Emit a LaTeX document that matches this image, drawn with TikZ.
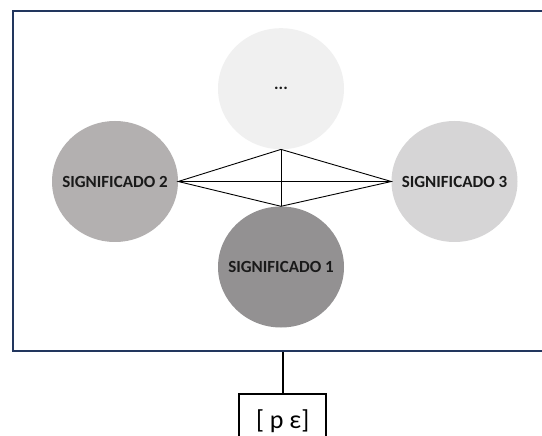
\documentclass[tikz,border=0pt]{standalone}
\usepackage{fontspec}
\setmainfont{Carlito}
\usetikzlibrary{shapes.geometric}
\definecolor{framenavy}{HTML}{22365E}
\definecolor{meanA}{HTML}{939192}
\definecolor{meanB}{HTML}{B3B0B0}
\definecolor{meanC}{HTML}{D6D5D6}
\definecolor{meanD}{HTML}{F0F0F0}
\definecolor{labelink}{HTML}{1A1A1A}
\tikzset{
  meaning/.style={ellipse, inner sep=0pt, minimum width=126pt, minimum height=121pt,
    text=labelink, font=\fontsize{17}{18}\selectfont\bfseries},
  link/.style={draw=black, line width=0.9pt},
}
% zero-width label so the disc keeps its own size
\newcommand{\meantext}[1]{\makebox[0pt]{#1}}
\begin{document}
\begin{tikzpicture}[x=1pt,y=-1pt]
\useasboundingbox (0,0) rectangle (542,436);
% outer frame
\node[draw=framenavy, line width=2.2pt, fill=white, anchor=north west,
      minimum width=548pt, minimum height=340pt, inner sep=0pt] (frame) at (12,10) {};
% the four meanings
\node[meaning, fill=meanD] (dots) at (281,88.7) {\meantext{...}};
\node[meaning, fill=meanB] (sig2) at (115,181.5) {\meantext{SIGNIFICADO 2}};
\node[meaning, fill=meanC] (sig3) at (454.5,181.5) {\meantext{SIGNIFICADO 3}};
\node[meaning, fill=meanA] (sig1) at (281,267) {\meantext{SIGNIFICADO 1}};
% diamond of links between them
\draw[link] (sig2.east) -- (dots.south) -- (sig3.west) -- (sig1.north) -- cycle;
\draw[link] (sig2.east) -- (sig3.west);
\draw[link] (dots.south) -- (sig1.north);
% the phonetic form below
\node[draw=black, line width=1.5pt, anchor=north, minimum width=87pt, minimum height=55pt,
      inner sep=0pt, font=\fontsize{26}{28}\selectfont] (form) at (282.7,393) {[ p ε]};
\draw[line width=2pt] (form.north) -- (form.north |- frame.south);
\end{tikzpicture}
\end{document}
